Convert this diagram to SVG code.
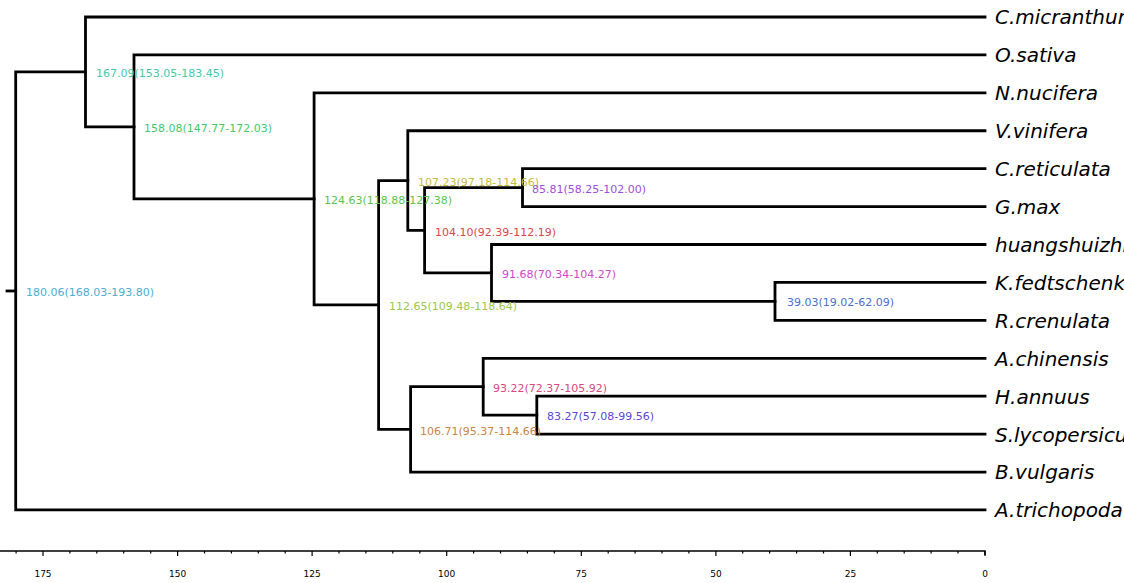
<svg xmlns="http://www.w3.org/2000/svg" width="1124" height="583" viewBox="0 0 1124 583">
<style>
.br{fill:none;stroke:#000;stroke-width:2.8;stroke-linejoin:miter;stroke-linecap:square}
.leaf{font-family:"DejaVu Sans",sans-serif;font-style:italic;font-size:20px;fill:#000}
.nl{font-family:"DejaVu Sans",sans-serif;font-size:11px}
.ax{stroke:#000;stroke-width:1.6;fill:none}
.tk{stroke:#000;stroke-width:1.2}
.al{font-family:"DejaVu Sans",sans-serif;font-size:9px;fill:#000;text-anchor:middle}
</style>
<rect width="1124" height="583" fill="#fff"/>
<g id="connectors">
<path class="br" d="M7 290.96 H15.7"/>
<path class="br" d="M85.5 71.96 H15.7 V509.96 H985"/>
<path class="br" d="M985 17 H85.5 V126.91 H134"/>
<path class="br" d="M985 54.92 H134 V198.9 H314.1"/>
<path class="br" d="M985 92.84 H314.1 V304.96 H378.6"/>
<path class="br" d="M407.8 180.53 H378.6 V429.38 H410.6"/>
<path class="br" d="M985 130.76 H407.8 V230.3 H424.6"/>
<path class="br" d="M522.5 187.64 H424.6 V272.96 H491.5"/>
<path class="br" d="M985 168.68 H522.5 V206.6 H985"/>
<path class="br" d="M985 244.52 H491.5 V301.4 H775"/>
<path class="br" d="M985 282.44 H775 V320.36 H985"/>
<path class="br" d="M483.2 386.72 H410.6 V472.04 H985"/>
<path class="br" d="M985 358.28 H483.2 V415.16 H536.8"/>
<path class="br" d="M985 396.2 H536.8 V434.12 H985"/>
</g>
<g id="leaves">
<g id="leaf-C-micranthum"><text class="leaf" x="995" y="24">C.micranthum</text></g>
<g id="leaf-O-sativa"><text class="leaf" x="995" y="62">O.sativa</text></g>
<g id="leaf-N-nucifera"><text class="leaf" x="995" y="100">N.nucifera</text></g>
<g id="leaf-V-vinifera"><text class="leaf" x="995" y="138">V.vinifera</text></g>
<g id="leaf-C-reticulata"><text class="leaf" x="995" y="176">C.reticulata</text></g>
<g id="leaf-G-max"><text class="leaf" x="995" y="214">G.max</text></g>
<g id="leaf-huangshuizhi"><text class="leaf" x="995" y="252">huangshuizhi</text></g>
<g id="leaf-K-fedtschenkoi"><text class="leaf" x="995" y="289.5">K.fedtschenkoi</text></g>
<g id="leaf-R-crenulata"><text class="leaf" x="995" y="327.5">R.crenulata</text></g>
<g id="leaf-A-chinensis"><text class="leaf" x="995" y="365.5">A.chinensis</text></g>
<g id="leaf-H-annuus"><text class="leaf" x="995" y="403.5">H.annuus</text></g>
<g id="leaf-S-lycopersicum"><text class="leaf" x="995" y="441.5">S.lycopersicum</text></g>
<g id="leaf-B-vulgaris"><text class="leaf" x="995" y="479">B.vulgaris</text></g>
<g id="leaf-A-trichopoda"><text class="leaf" x="995" y="517">A.trichopoda</text></g>
</g>
<g id="internal-nodes">
<g id="node-180"><text class="nl" x="26" y="295.5" fill="#4aaed0">180.06(168.03-193.80)</text></g>
<g id="node-167"><text class="nl" x="96" y="77" fill="#45c8a8">167.09(153.05-183.45)</text></g>
<g id="node-158"><text class="nl" x="144" y="132" fill="#45c86a">158.08(147.77-172.03)</text></g>
<g id="node-124"><text class="nl" x="324" y="204" fill="#5cc44a">124.63(118.88-127.38)</text></g>
<g id="node-112"><text class="nl" x="389" y="309.5" fill="#9ac848">112.65(109.48-118.64)</text></g>
<g id="node-107"><text class="nl" x="418" y="185.5" fill="#c8bb3a">107.23(97.18-114.66)</text></g>
<g id="node-104"><text class="nl" x="435" y="235.5" fill="#d84848">104.10(92.39-112.19)</text></g>
<g id="node-85"><text class="nl" x="532" y="192.5" fill="#a04ed8">85.81(58.25-102.00)</text></g>
<g id="node-91"><text class="nl" x="502" y="277.5" fill="#d048c8">91.68(70.34-104.27)</text></g>
<g id="node-39"><text class="nl" x="787" y="306" fill="#4a6ed0">39.03(19.02-62.09)</text></g>
<g id="node-106"><text class="nl" x="420" y="434.5" fill="#c8844a">106.71(95.37-114.66)</text></g>
<g id="node-93"><text class="nl" x="493" y="391.5" fill="#d84880">93.22(72.37-105.92)</text></g>
<g id="node-83"><text class="nl" x="547" y="419.5" fill="#5a48d0">83.27(57.08-99.56)</text></g>
</g>
<g id="axis">
<path class="ax" d="M0 551 H985 V555"/>
<path class="tk" d="M43 551V556 M177.6 551V556 M312.1 551V556 M446.7 551V556 M581.3 551V556 M715.9 551V556 M850.4 551V556 M985 551V556"/>
<path class="tk" d="M16.1 551V553.5 M69.9 551V553.5 M96.8 551V553.5 M123.7 551V553.5 M150.7 551V553.5 M204.5 551V553.5 M231.4 551V553.5 M258.3 551V553.5 M285.2 551V553.5 M339 551V553.5 M365.9 551V553.5 M392.8 551V553.5 M419.8 551V553.5 M473.6 551V553.5 M500.5 551V553.5 M527.4 551V553.5 M554.3 551V553.5 M608.2 551V553.5 M635.1 551V553.5 M662 551V553.5 M688.9 551V553.5 M742.7 551V553.5 M769.6 551V553.5 M796.6 551V553.5 M823.5 551V553.5 M877.3 551V553.5 M904.2 551V553.5 M931.1 551V553.5 M958 551V553.5"/>
<text class="al" x="43" y="577">175</text>
<text class="al" x="177.6" y="577">150</text>
<text class="al" x="312.1" y="577">125</text>
<text class="al" x="446.7" y="577">100</text>
<text class="al" x="581.3" y="577">75</text>
<text class="al" x="715.9" y="577">50</text>
<text class="al" x="850.4" y="577">25</text>
<text class="al" x="985" y="577">0</text>
</g>
</svg>
